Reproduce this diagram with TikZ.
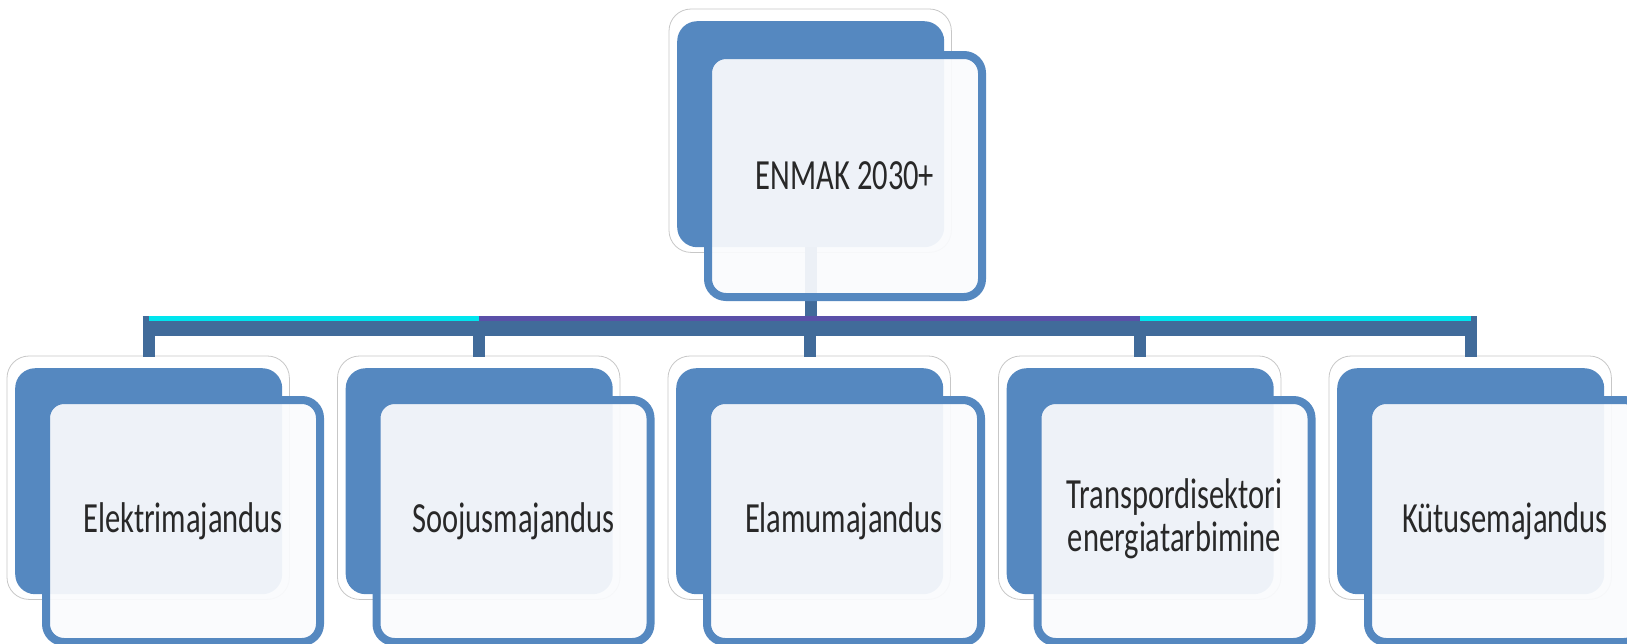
\documentclass[tikz,border=0pt]{standalone}
\usepackage{fontspec}
\setmainfont{Carlito}
\definecolor{boxblue}{RGB}{85,136,192}
\definecolor{barblue}{RGB}{65,107,154}
\definecolor{stripcyan}{RGB}{0,229,238}
\definecolor{strippurple}{RGB}{90,80,168}
\definecolor{frontfill}{RGB}{250,251,253}
\definecolor{textgray}{RGB}{40,40,40}
\newcommand\squeezetxt[1]{\scalebox{0.71}[1]{#1}}
\begin{document}
\begin{tikzpicture}[x=1pt,y=-1pt,
  backbox/.style={anchor=north west, fill=boxblue, draw=none, rounded corners=20pt,
    minimum width=267pt, minimum height=226pt, inner sep=0pt},
  halo/.style={draw=black!22, line width=0.8pt, rounded corners=22pt},
  frontbox/.style={anchor=north west, draw=boxblue, line width=8pt, fill=frontfill,
    fill opacity=0.93, text opacity=1, draw opacity=1, rounded corners=18pt,
    minimum width=274pt, minimum height=242pt, inner sep=0pt, text=textgray,
    font=\fontsize{43}{43}\selectfont},
  conn/.style={draw=barblue, line width=12pt},
  barline/.style={draw=barblue, line width=20pt, shorten <=-6pt, shorten >=-6pt},
  strip/.style={line width=5pt},
]
\useasboundingbox (0,0) rectangle (1627,643);
\clip (0,0) rectangle (1627,643);

% back rectangles
\node[backbox] (tb) at (677,21) {};
\node[backbox] (c1b) at (15,368) {};
\node[backbox] (c2b) at (345.5,368) {};
\node[backbox] (c3b) at (676,368) {};
\node[backbox] (c4b) at (1006.5,368) {};
\node[backbox] (c5b) at (1337,368) {};

% halos
\foreach \b in {tb,c1b,c2b,c3b,c4b,c5b}{
  \draw[halo] ([xshift=-8pt,yshift=12pt]\b.north west) rectangle ([xshift=7pt,yshift=-5pt]\b.south east);
}

% junction coordinates on the bar
\path (c1b.north) ++(0,-42) coordinate (j1);
\path (c2b.north) ++(0,-42) coordinate (j2);
\path (c3b.north) ++(0,-42) coordinate (j3);
\path (c4b.north) ++(0,-42) coordinate (j4);
\path (c5b.north) ++(0,-42) coordinate (j5);

% connectors
\draw[conn] (tb.south) -- (tb.south |- j3);
\draw[barline] (j1) -- (j5);
\draw[strip, stripcyan] ([yshift=7.5pt]j1) -- ([yshift=7.5pt]j2);
\draw[strip, strippurple] ([yshift=7.5pt]j2) -- ([yshift=7.5pt]j4);
\draw[strip, stripcyan] ([yshift=7.5pt]j4) -- ([yshift=7.5pt]j5);
\foreach \i in {1,...,5}{
  \draw[conn] (j\i) -- ([yshift=11pt]c\i b.north);
}

% front boxes with text
\node[frontbox] (t) at (704,51) {\squeezetxt{ENMAK 2030+}};
\node[frontbox] (c1) at (42,396) {\squeezetxt{Elektrimajandus}};
\node[frontbox] (c2) at (372.5,396) {\squeezetxt{Soojusmajandus}};
\node[frontbox] (c3) at (703,396) {\squeezetxt{Elamumajandus}};
\node[frontbox] (c4) at (1033.5,396) {\squeezetxt{\begin{tabular}{@{}c@{}}Transpordisektori\\energiatarbimine\end{tabular}}};
\node[frontbox] (c5) at (1364,396) {\squeezetxt{Kütusemajandus}};
\end{tikzpicture}
\end{document}
